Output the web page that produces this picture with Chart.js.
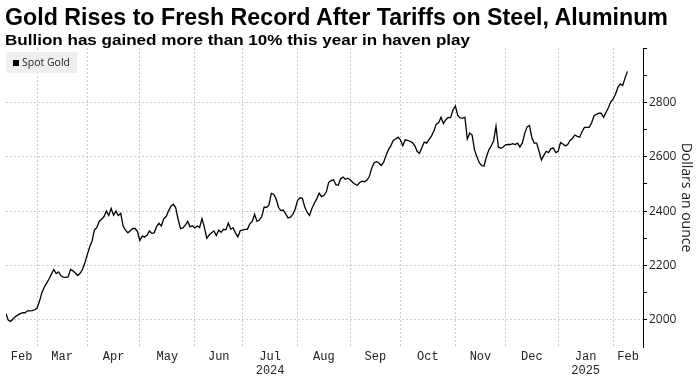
<!DOCTYPE html>
<html><head><meta charset="utf-8">
<script src="https://cdn.jsdelivr.net/npm/chart.js@4/dist/chart.umd.min.js"></script>
<style>
html,body{margin:0;padding:0;background:#fff;}
#wrap{position:relative;width:697px;height:377px;overflow:hidden;background:#fff;}
#c{position:absolute;left:0;top:0;}
.t{position:absolute;left:5px;white-space:nowrap;transform-origin:0 0;color:#000;font-family:"Liberation Sans",Arial,sans-serif;font-weight:bold;}
#title{top:4px;font-size:23px;line-height:26px;}
#sub{top:31px;font-size:15.5px;line-height:18px;}
</style></head><body>
<div id="wrap">
<canvas id="c" width="697" height="377"></canvas>
<div class="t" id="title">Gold Rises to Fresh Record After Tariffs on Steel, Aluminum</div>
<div class="t" id="sub">Bullion has gained more than 10% this year in haven play</div>
</div>
<script>
// ---- data ----
const seriesName = 'Spot Gold';
const startDate = [2024, 1, 13]; // first trading day shown (Feb 13, 2024)
const prices = [
2022,1998,1994,2004,2012,2018,2023,2026,2026,2033,2033,2034,2037,
2043,2068,2100,2120,2135,2150,2168,2185,2170,2176,2162,2157,2156,2158,2185,2180,2172,2163,2171,2185,2210,
2240,2268,2290,2330,2340,2363,2370,2380,2400,2384,2410,2385,2400,2384,2392,2345,2330,2320,2328,2336,2336,2325,
2292,2308,2305,2311,2327,2318,2320,2343,2355,2345,2372,2380,2400,2418,2425,2412,2370,2335,2338,2348,2362,2342,2346,
2338,2345,2340,2372,2340,2300,2312,2320,2327,2310,2330,2322,2333,2331,2356,2334,2338,2320,2305,2328,2330,
2333,2333,2353,2362,2388,2362,2367,2380,2415,2414,2422,2465,2462,2445,2414,2402,2404,2390,2375,2378,2388,2408,2440,
2449,2447,2415,2395,2384,2410,2429,2445,2466,2453,2457,2470,2506,2512,2515,2497,2495,2519,2525,2517,2521,2515,
2506,2499,2495,2505,2510,2508,2514,2527,2558,2578,2582,2577,2568,2580,2605,2626,2640,2660,2665,2672,
2662,2640,2662,2660,2657,2652,2641,2620,2612,2634,2654,2650,2664,2676,2695,2720,2725,2745,2722,2736,2745,2744,2772,
2787,2752,2743,2742,2745,2665,2687,2680,2625,2600,2578,2567,2566,2600,2625,2640,2659,2712,2635,2631,2636,
2644,2645,2645,2648,2645,2650,2636,2650,2685,2710,2715,2670,2650,2650,2620,2588,2605,2620,2615,2630,2632,2615,
2620,2652,2647,2640,2645,2660,2668,2680,2675,2672,2692,2708,2708,2708,2725,2750,2756,2760,2760,2745,2763,2780,2802,
2812,2830,2855,2868,2862,2890,2914
];
const monthNames = ['Jan','Feb','Mar','Apr','May','Jun','Jul','Aug','Sep','Oct','Nov','Dec'];
const yearLabelMonth = {2024: 'Jul', 2025: 'Jan'};
const yTickValues = [2000,2100,2200,2300,2400,2500,2600,2700,2800,2900,3000];
const yLabelValues = [2000,2200,2400,2600,2800];
const yTitle = 'Dollars an ounce';

// ---- trading-day categories ----
const dates = [];
{
  const d = new Date(Date.UTC(startDate[0], startDate[1], startDate[2]));
  while (dates.length < prices.length) {
    const wd = d.getUTCDay();
    if (wd !== 0 && wd !== 6) dates.push(new Date(d));
    d.setUTCDate(d.getUTCDate() + 1);
  }
}
const X_MIN = 0, X_MAX = prices.length - 1 + 6.5;
const monthStarts = []; // [index, year, month]
dates.forEach((dt, i) => {
  if (i === 0 || dt.getUTCMonth() !== dates[i-1].getUTCMonth())
    monthStarts.push([i, dt.getUTCFullYear(), dt.getUTCMonth()]);
});
const boundaryTicks = monthStarts.slice(1).map(m => m[0]);
const labelMap = new Map();
monthStarts.forEach((m, k) => {
  const a = Math.max(m[0], X_MIN);
  const b = k + 1 < monthStarts.length ? monthStarts[k+1][0] : X_MAX;
  const mid = (a + b) / 2;
  const name = monthNames[m[2]];
  labelMap.set(mid, yearLabelMonth[m[1]] === name ? [name, String(m[1])] : name);
});

const GRID = '#c9c9c9';
const legendBox = {
  id: 'legendBox',
  afterDatasetsDraw(chart) {
    const {ctx, chartArea} = chart;
    ctx.save();
    ctx.font = '10.5px "Open Sans", sans-serif';
    const tw = ctx.measureText(seriesName).width;
    const x = chartArea.left, y = chartArea.top + 4, h = 21;
    const w = 7 + 6 + 3 + tw + 7;
    ctx.fillStyle = '#efefef';
    ctx.fillRect(x, y, w, h);
    ctx.fillStyle = '#000';
    ctx.fillRect(x + 7, y + 8, 6, 6);
    ctx.fillStyle = '#222';
    ctx.textBaseline = 'middle';
    ctx.fillText(seriesName, x + 16, y + h / 2 + 0.5);
    ctx.restore();
  }
};

new Chart(document.getElementById('c'), {
  type: 'line',
  data: {
    datasets: [{
      label: seriesName,
      data: prices.map((v, i) => ({x: i, y: v})),
      borderColor: '#000',
      backgroundColor: '#000',
      borderWidth: 1.3,
      pointRadius: 0,
      tension: 0,
      fill: false
    }]
  },
  options: {
    responsive: false,
    devicePixelRatio: 1,
    animation: false,
    events: [],
    layout: {padding: {top: 48, left: 6, right: 0, bottom: 0}},
    plugins: {legend: {display: false}, title: {display: false}, tooltip: {enabled: false}},
    scales: {
      x: {
        type: 'linear',
        min: X_MIN, max: X_MAX,
        afterBuildTicks: s => {
          const vals = boundaryTicks.concat([...labelMap.keys()]).sort((p, q) => p - q);
          s.ticks = vals.map(v => ({value: v}));
        },
        afterFit: s => { s.height = 30; },
        ticks: {
          autoSkip: false, maxRotation: 0, minRotation: 0, padding: 3,
          color: '#222',
          font: {family: '"Liberation Mono", "DejaVu Sans Mono", monospace', size: 12, lineHeight: 1.15},
          callback: v => labelMap.has(v) ? labelMap.get(v) : ''
        },
        grid: {
          drawTicks: false,
          color: c => (c.tick && labelMap.has(c.tick.value)) ? 'rgba(0,0,0,0)' : GRID,
          lineWidth: 1
        },
        border: {display: false, dash: [2, 2]}
      },
      y: {
        type: 'linear',
        position: 'right',
        min: 1900, max: 3000,
        afterBuildTicks: s => { s.ticks = yTickValues.map(v => ({value: v})); },
        afterFit: s => { s.width = 54; },
        ticks: {
          padding: 2, color: '#222',
          font: {family: '"Open Sans", sans-serif', size: 12},
          callback: v => yLabelValues.includes(v) ? String(v) : ''
        },
        grid: {
          drawTicks: true, tickLength: 4, tickColor: '#000', tickWidth: 1,
          color: c => (c.tick && yLabelValues.includes(c.tick.value)) ? GRID : 'rgba(0,0,0,0)',
          lineWidth: 1
        },
        border: {display: true, color: '#000', width: 1, dash: [2, 2]},
        title: {
          display: true, text: yTitle, color: '#222',
          font: {family: '"Open Sans", sans-serif', size: 14},
          padding: {top: 3, bottom: 0}
        }
      }
    }
  },
  plugins: [legendBox]
});

// fit headline widths
function fit(id, target) {
  const el = document.getElementById(id);
  const w = el.getBoundingClientRect().width;
  el.style.transform = 'scaleX(' + (target / w) + ')';
}
fit('title', 663);
fit('sub', 465);
</script>
</body></html>
